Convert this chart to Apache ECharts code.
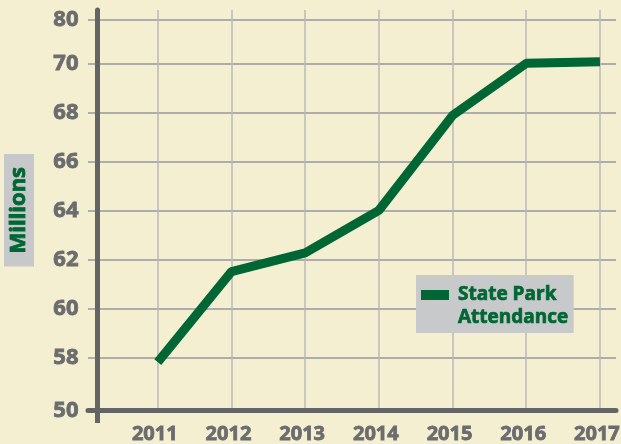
<!DOCTYPE html>
<html>
<head>
<meta charset="utf-8">
<script src="https://cdn.jsdelivr.net/npm/echarts@6/dist/echarts.min.js"></script>
<style>
  html, body { margin: 0; padding: 0; background: #f5efd1; }
  #chart { width: 621px; height: 444px; }
</style>
</head>
<body>
<div id="chart"></div>
<script>
var years = [2011, 2012, 2013, 2014, 2015, 2016, 2017];
var attendance = [57.82, 61.52, 62.28, 64.02, 67.9, 70.03, 70.09];
// broken axis: bottom tick reads 50, top tick reads 80
var yTickValues = [55.84, 58, 60, 62, 64, 66, 68, 70, 71.8];
var yTickLabels = ['50', '58', '60', '62', '64', '66', '68', '70', '80'];
var seriesName = 'State Park\nAttendance';

var axisGrey = '#636466';
var labelGrey = '#6b6c6e';
var green = '#006633';
var font = 'Open Sans';

function yLabel(v) {
  var best = 0;
  for (var i = 0; i < yTickValues.length; i++) {
    if (Math.abs(yTickValues[i] - v) < Math.abs(yTickValues[best] - v)) best = i;
  }
  return yTickLabels[best];
}

var chart = echarts.init(document.getElementById('chart'), null, { renderer: 'canvas' });

var option = {
  backgroundColor: '#f5efd1',
  animation: false,
  grid: { left: 88, right: 5, top: 10, bottom: 33.5, outerBoundsMode: 'none' },
  legend: {
    left: 416,
    top: 275,
    orient: 'vertical',
    padding: [8, 5, 4, 5],
    backgroundColor: '#c8c9cb',
    itemWidth: 28,
    itemHeight: 32,
    icon: 'path://M0,0H28V10H0Z M0,31.99H0.01V32H0Z',
    textStyle: {
      fontFamily: font,
      fontWeight: 'bold',
      fontSize: 19,
      lineHeight: 23,
      color: green,
      textBorderColor: green,
      textBorderWidth: 0.7,
      padding: [0, 0, 0, 4]
    },
    data: [seriesName]
  },
  xAxis: [{
    type: 'value',
    min: 2010.053,
    max: 2017.218,
    axisLine: { onZero: false, lineStyle: { color: axisGrey, width: 5 } },
    axisTick: { show: false, customValues: years },
    axisLabel: {
      customValues: years,
      formatter: function (v) { return String(v); },
      margin: 14,
      padding: [0, 6, 0, 0],
      color: labelGrey,
      textBorderColor: labelGrey,
      textBorderWidth: 0.8,
      fontFamily: font,
      fontWeight: 'bold',
      fontSize: 20
    },
    splitLine: { show: true, lineStyle: { color: '#b9b9b9', width: 1.5 } }
  }, {
    // short stub of the y axis below the x axis
    type: 'value',
    position: 'bottom',
    min: 2010.053,
    max: 2017.218,
    axisLine: { show: false, onZero: false },
    axisLabel: { show: false },
    splitLine: { show: false },
    axisTick: {
      show: true,
      customValues: [2010.182],
      length: 12.5,
      lineStyle: { color: axisGrey, width: 5 }
    }
  }],
  yAxis: {
    type: 'value',
    min: 55.84,
    max: 72.21,
    offset: -9.5,
    name: 'Millions',
    nameLocation: 'middle',
    nameRotate: 90,
    nameGap: 63.5,
    nameTextStyle: {
      fontFamily: font,
      fontWeight: 'bold',
      fontSize: 22,
      lineHeight: 22,
      color: green,
      textBorderColor: green,
      textBorderWidth: 0.8,
      backgroundColor: '#c7c8ca',
      padding: [4, 13, 4, 13]
    },
    axisLine: { show: true, lineStyle: { color: axisGrey, width: 5 } },
    axisTick: { show: false, customValues: yTickValues },
    axisLabel: {
      customValues: yTickValues,
      formatter: yLabel,
      margin: 19,
      color: labelGrey,
      textBorderColor: labelGrey,
      textBorderWidth: 0.8,
      fontFamily: font,
      fontWeight: 'bold',
      fontSize: 22
    },
    splitLine: { show: true, lineStyle: { color: '#adadad', width: 2 } }
  },
  series: [{
    name: seriesName,
    type: 'line',
    xAxisIndex: 0,
    symbol: 'none',
    clip: false,
    lineStyle: { color: green, width: 9 },
    itemStyle: { color: green },
    data: years.map(function (y, i) { return [y, attendance[i]]; })
  }]
};

chart.setOption(option);
</script>
</body>
</html>
